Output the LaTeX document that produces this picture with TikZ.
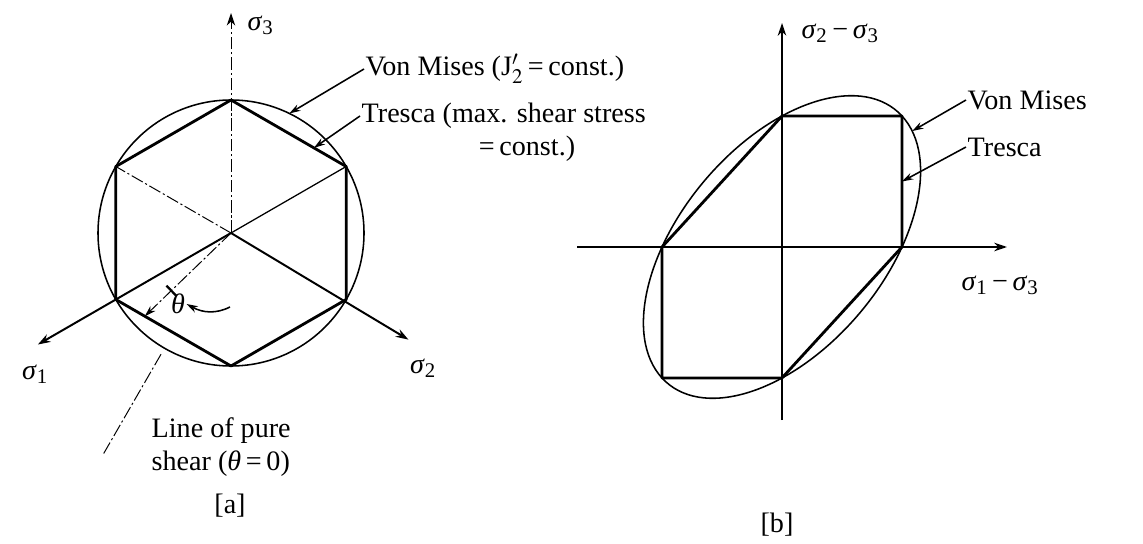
\documentclass[tikz,border=0pt]{standalone}
\usepackage{mathptmx}
\usepackage[no-math]{fontspec}
\setmainfont{Liberation Serif}
\usetikzlibrary{arrows.meta, calc}

\newcommand{\sig}[1]{\textit{σ}\textsubscript{#1}}

\begin{document}
\begin{tikzpicture}[x=0.025cm, y=-0.025cm,
  hexline/.style={line width=2pt, line join=round},
  vmline/.style={line width=1.1pt},
  thinline/.style={line width=0.9pt},
  dashdot/.style={line width=0.7pt, dash pattern=on 9pt off 2pt on 1.5pt off 2pt},
  axisarr/.style={-{Stealth[length=9pt, width=6pt]}, line width=1.4pt},
  ptr/.style={-{Stealth[length=8pt, width=5pt]}, line width=1.1pt},
  lbl/.style={font=\fontsize{20}{24}\selectfont, inner sep=1pt}
]
\useasboundingbox (0,0) rectangle (1143,544);

% (a) deviatoric plane
\coordinate (C) at (231,233);
\foreach \a/\n in {-90/t, -30/ur, 30/lr, 90/b, 150/ll, 210/ul}
  \coordinate (A\n) at ($(C)+(\a:133)$);
\draw[vmline] (C) circle (133);
\draw[hexline] (At) -- (Aur) -- (Alr) -- (Ab) -- (All) -- (Aul) -- cycle;
\draw[thinline] (C) -- (Aur);
\draw[dashdot] (C) -- (Aul);
\coordinate (s3tip) at (231,13);
\coordinate (s1tip) at ($(C)+(150:223)$);
\coordinate (s2tip) at ($(C)+(31:207)$);
\draw[dashdot, -{Stealth[length=9pt, width=6pt]}] (C) -- (s3tip);
\draw[axisarr] (C) -- (s1tip);
\draw[axisarr] (C) -- (s2tip);
\node[lbl, anchor=west] (s3lab) at (246,25) {\sig{3}};
\node[lbl] (s1lab) at (35,374) {\sig{1}};
\node[lbl] (s2lab) at (423,368) {\sig{2}};

% pure shear and general state
\coordinate (psA) at ($(C)+(120:140)$);
\coordinate (psB) at ($(C)+(120:255)$);
\draw[dashdot] (psA) -- (psB);
\coordinate (Ath) at ($(C)+(136:119.8)$);
\draw[dashdot, -{Stealth[length=8pt, width=5pt]}] (C) -- (Ath);
\draw[line width=1.6pt] ($(C)+(136:83)+(46:7)$) -- ($(C)+(136:83)+(226:7)$);
\node[lbl] (theta) at (178,304) {\textit{θ}};
\coordinate (thtail) at (230,307);
\draw[ptr] (thtail) .. controls (216,314) and (203,313) .. (theta.east);
\node[lbl, anchor=west, align=left] (pslab) at (150,447) {Line of pure\\shear (\textit{θ}\,=\,0)};

% (a) labels
\coordinate (Avm) at ($(C)+(-64:133)$);
\coordinate (Atr) at ($(At)!0.72!(Aur)$);
\node[lbl, anchor=west] (vmA) at (364,69) {Von Mises (J$'_2$\,=\,const.)};
\node[lbl, anchor=west] (trA) at (360,116) {Tresca (max. shear stress};
\node[lbl] (trA2) at (527,149) {=\,const.)};
\draw[ptr] (vmA.west) -- (Avm);
\draw[ptr] (trA.west) -- (Atr);

% (b) principal stress difference plane
\begin{scope}[shift={(782,247)}, xscale=120, yscale=-131]
  \coordinate (Bl) at (-1,0);
  \coordinate (Bt) at (0,1);
  \coordinate (Btr) at (1,1);
  \coordinate (Br) at (1,0);
  \coordinate (Bb) at (0,-1);
  \coordinate (Bbl) at (-1,-1);
  \draw[vmline, rotate=-45] (0,0) ellipse (1.4142 and 0.8165);
  \draw[hexline] (Bl) -- (Bt) -- (Btr) -- (Br) -- (Bb) -- (Bbl) -- cycle;
  \coordinate (Bvm) at (1.085,0.885);
  \coordinate (Btrm) at (1,0.5);
\end{scope}
\coordinate (Bxs) at (577,247);
\coordinate (Bxe) at (1007,247);
\coordinate (Bys) at (782,420);
\coordinate (Bye) at (782,23);
\draw[axisarr] (Bxs) -- (Bxe);
\draw[axisarr, line width=1.1pt] (Bys) -- (Bye);
\node[lbl, anchor=west] (s23) at (800,33) {\sig{2}\,−\,\sig{3}};
\node[lbl] (s13) at (1000,285) {\sig{1}\,−\,\sig{3}};
\node[lbl, anchor=west] (vmB) at (966,100) {Von Mises};
\node[lbl, anchor=west] (trB) at (966,147) {Tresca};
\draw[ptr] (vmB.west) -- (Bvm);
\draw[ptr] (trB.west) -- (Btrm);

% captions
\node[lbl] (capA) at (230,506) {[a]};
\node[lbl] (capB) at (777,525) {[b]};
\end{tikzpicture}
\end{document}
